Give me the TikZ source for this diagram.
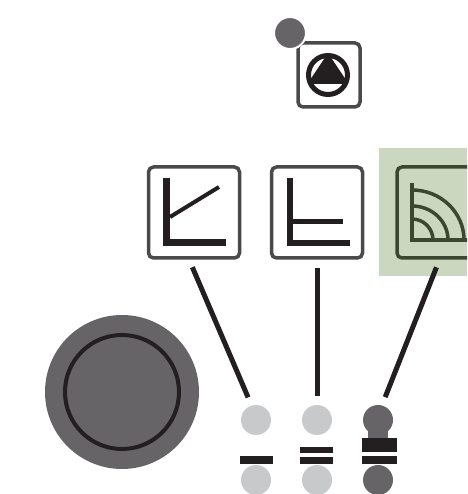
\documentclass[tikz,border=0pt]{standalone}
\usepackage{xcolor}
\usepackage{tikz}
\definecolor{PanelInk}{HTML}{231F20}
\definecolor{PanelEdge}{HTML}{4B494C}
\definecolor{PanelDark}{HTML}{666467}
\definecolor{PanelLight}{HTML}{C8C9CB}
\definecolor{PanelGreen}{HTML}{CCD7BF}
\definecolor{PanelMoss}{HTML}{3A4731}
\tikzset{
  gaugebox/.style={draw=PanelEdge,fill=white,line width=.07cm,rounded corners=.1cm,minimum width=1.82cm,minimum height=1.82cm,inner sep=0pt,outer sep=0pt},
  lamp/.style={circle,minimum size=.6cm,inner sep=0pt,outer sep=0pt},
  wire/.style={PanelInk,line width=.1cm,shorten <=.2cm,shorten >=.18cm}
}
\begin{document}
\begin{tikzpicture}[x=1cm,y=1cm]
\path[use as bounding box,clip] (0,0) rectangle (9.34,9.88);
\fill[white] (0,0) rectangle (9.34,9.88);
\fill[PanelGreen] (7.58,4.36) rectangle (9.34,6.92);
\node[gaugebox,minimum width=1.24cm,minimum height=1.28cm] (modebox) at (6.58,8.38) {};
\draw[PanelInk,line width=.1cm] (6.56,8.38) circle (.39);
\fill[PanelInk] (6.56,8.82) -- (6.96,8.22) -- (6.16,8.22) -- cycle;
\fill[PanelInk] (6.16,8.32) rectangle (6.96,8.20);
\node[lamp,fill=PanelDark,draw=white,line width=.04cm,minimum size=.64cm] (modelamp) at (5.80,9.22) {};
\node[gaugebox] (gaugeA) at (3.88,5.63) {};
\draw[PanelInk,line width=.14cm] (3.32,6.32) -- (3.32,5.02) -- (4.52,5.02);
\draw[PanelInk,line width=.08cm] (3.40,5.54) -- (4.38,6.14);
\node[gaugebox] (gaugeB) at (6.34,5.63) {};
\draw[PanelInk,line width=.11cm] (5.80,6.32) -- (5.80,5.02) -- (7.00,5.02);
\draw[PanelInk,line width=.10cm] (5.80,5.44) -- (6.86,5.44);
\node[gaugebox,draw=PanelMoss,fill=PanelGreen] (gaugeC) at (8.85,5.63) {};
\draw[PanelMoss,line width=.07cm] (8.24,6.22) -- (8.24,5.08) -- (9.50,5.08);
\draw[PanelMoss,line width=.07cm] (8.66,5.08) arc (0:90:.42);
\draw[PanelMoss,line width=.07cm] (8.96,5.08) arc (0:90:.72 and .68);
\draw[PanelMoss,line width=.07cm] (9.28,5.08) arc (0:90:1.04 and 1.0);
\node[circle,fill=PanelDark,minimum size=3.08cm,inner sep=0pt] (dial) at (2.44,2.04) {};
\node[circle,draw=PanelInk,line width=.08cm,minimum size=2.28cm,inner sep=0pt] (dialring) at (dial) {};
\node[lamp,fill=PanelLight] (lampA) at (5.12,1.48) {};
\node[lamp,fill=PanelLight] (lampB) at (6.34,1.48) {};
\node[lamp,fill=PanelDark] (lampC) at (7.56,1.48) {};
\node[lamp,fill=PanelLight] (lowA) at (5.12,.28) {};
\node[lamp,fill=PanelLight] (lowB) at (6.34,.28) {};
\node[lamp,fill=PanelDark] (lowC) at (7.56,.28) {};
\fill[PanelDark] (7.36,1.12) rectangle (7.76,1.30);
\fill[PanelInk] (4.80,.60) rectangle (5.46,.76);
\fill[PanelInk] (6.00,.82) rectangle (6.66,.94);
\fill[PanelInk] (6.00,.60) rectangle (6.66,.74);
\fill[PanelInk] (7.24,.84) rectangle (7.94,1.12);
\fill[PanelInk] (7.24,.60) rectangle (7.94,.75);
\draw[wire] (gaugeA.263) -- (lampA.107);
\draw[wire] (gaugeB.south) -- (lampB.north);
\draw[wire] (gaugeC.267) -- (lampC.75);
\end{tikzpicture}
\end{document}
